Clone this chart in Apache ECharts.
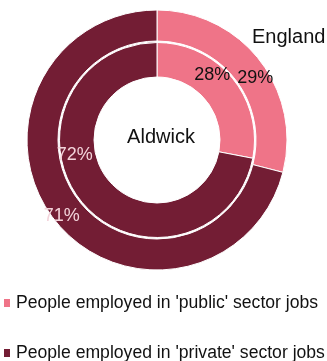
<!DOCTYPE html>
<html>
<head>
<meta charset="utf-8">
<script src="https://cdn.jsdelivr.net/npm/echarts@6/dist/echarts.min.js"></script>
<style>
html,body{margin:0;padding:0;background:#fff;}
#c{width:327px;height:361px;}
</style>
</head>
<body>
<div id="c"></div>
<script>
var categories = ["People employed in 'public' sector jobs", "People employed in 'private' sector jobs"];
var aldwickValues = [28, 72];
var englandValues = [29, 71];
var innerName = 'Aldwick';
var outerName = 'England';

var colors = ['#EF7488', '#731D34'];
var labelColors = ['#111111', '#F3D3DA'];
var innerOffsets = [[-9, -12], [-18, -38]];
var outerOffsets = [[5.5, 10.5], [-2.5, 4]];
var legendTops = [294, 344];
var FONT = 'Liberation Sans, Arial, sans-serif';

function build(values, offsets) {
  return values.map(function (v, i) {
    return {
      name: categories[i],
      value: v,
      itemStyle: { color: colors[i] },
      label: { color: labelColors[i], offset: offsets[i] }
    };
  });
}

var chart = echarts.init(document.getElementById('c'), null, { renderer: 'canvas' });
chart.setOption({
  animation: false,
  color: colors,
  title: [
    { text: innerName, left: 156, top: 132, textAlign: 'center', textVerticalAlign: 'middle',
      textStyle: { fontFamily: FONT, fontSize: 20, fontWeight: 'normal', color: '#111' } },
    { text: outerName, left: 252, top: 27,
      textStyle: { fontFamily: FONT, fontSize: 20, fontWeight: 'normal', color: '#111' }, padding: 0 }
  ],
  legend: categories.map(function (c, i) {
    return {
      orient: 'vertical',
      left: 2,
      top: legendTops[i],
      padding: 0,
      itemWidth: 8,
      itemHeight: 10,
      icon: 'rect',
      textStyle: { fontFamily: FONT, fontSize: 17.6, color: '#111' },
      data: [c]
    };
  }),
  series: [
    {
      name: innerName,
      type: 'pie',
      center: [157, 140],
      radius: [63, 97.5],
      startAngle: 90,
      clockwise: true,
      silent: true,
      itemStyle: { borderColor: '#fff', borderWidth: 1 },
      label: { show: true, position: 'inside', formatter: '{c}%', fontFamily: FONT, fontSize: 18 },
      labelLine: { show: false },
      data: build(aldwickValues, innerOffsets)
    },
    {
      name: outerName,
      type: 'pie',
      center: [157, 140],
      radius: [99, 130],
      startAngle: 90,
      clockwise: true,
      silent: true,
      itemStyle: { borderColor: '#fff', borderWidth: 1 },
      label: { show: true, position: 'inside', formatter: '{c}%', fontFamily: FONT, fontSize: 18 },
      labelLine: { show: false },
      data: build(englandValues, outerOffsets)
    }
  ]
});
</script>
</body>
</html>
